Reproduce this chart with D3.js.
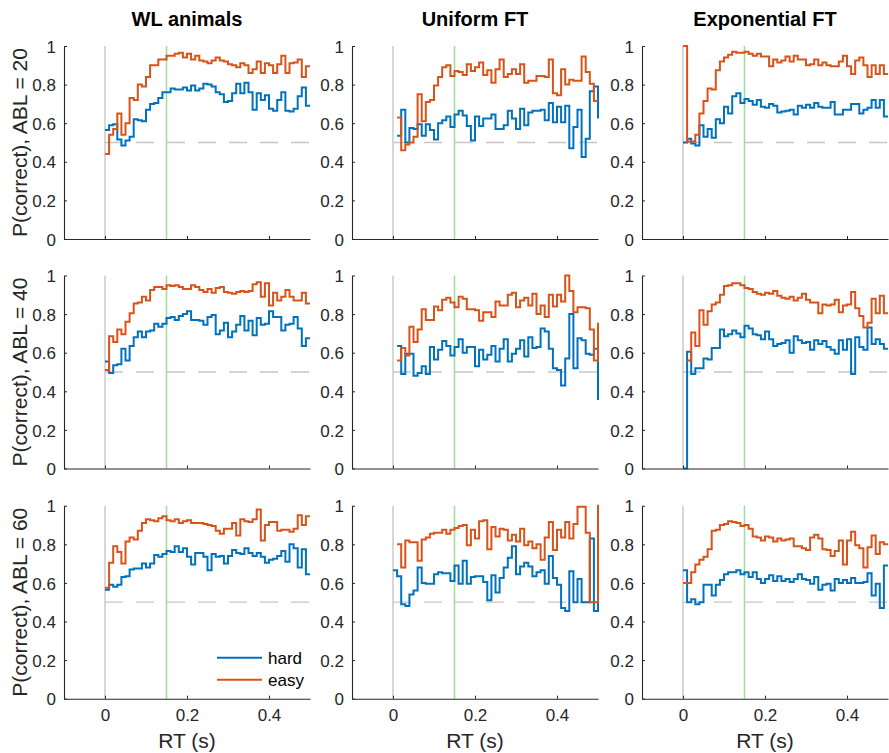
<!DOCTYPE html>
<html>
<head>
<meta charset="utf-8">
<script src="https://cdn.jsdelivr.net/npm/d3@7"></script>
<style>
  html, body { margin: 0; padding: 0; background: #fff; }
  svg { display: block; font-family: "Liberation Sans", Arial, Helvetica, sans-serif; }
</style>
</head>
<body>
<svg id="chart" width="889" height="753"></svg>
<script>
// ---- Data: P(correct) per 10 ms RT bin (bin k covers [k*0.01, (k+1)*0.01) s) ----
const conditions = ["WL animals", "Uniform FT", "Exponential FT"];
const ablLevels = [20, 40, 60];
const seriesNames = ["hard", "easy"];
const xTicks = [0, 0.2, 0.4];
const yTicks = [0, 0.2, 0.4, 0.6, 0.8, 1];
const binWidth = 0.01;
const chance = 0.5;
const markerRT = 0.15;

// ABL = 20
const wl20Hard = [0.565,0.59,0.595,0.515,0.485,0.51,0.53,0.62,0.615,0.61, 0.67,0.70,0.705,0.73,0.76,0.76,0.78,0.775,0.775,0.785, 0.77,0.795,0.77,0.78,0.805,0.80,0.79,0.76,0.75,0.71, 0.715,0.755,0.805,0.755,0.81,0.76,0.67,0.755,0.72,0.745, 0.675,0.665,0.72,0.76,0.665,0.66,0.675,0.74,0.785,0.69];
const wl20Easy = [0.44,0.54,0.57,0.65,0.54,0.60,0.73,0.72,0.80,0.79, 0.84,0.90,0.90,0.93,0.93,0.95,0.95,0.96,0.965,0.94, 0.96,0.93,0.95,0.925,0.92,0.91,0.925,0.94,0.925,0.92, 0.905,0.90,0.89,0.91,0.90,0.86,0.88,0.92,0.86,0.91, 0.90,0.86,0.905,0.95,0.86,0.91,0.915,0.93,0.84,0.895];
const uni20Hard = [null,0.535,0.67,0.50,0.575,0.57,0.595,0.535,0.595,0.565, 0.515,0.60,0.615,0.635,0.58,0.645,0.665,0.64,0.585,0.51, 0.635,0.585,0.625,0.625,0.645,0.57,0.57,0.59,0.665,0.625, 0.57,0.675,0.59,0.655,0.665,0.665,0.67,0.615,0.705,0.605, 0.685,0.605,0.69,0.47,0.58,0.67,0.425,0.52,0.765,0.79, 0.63];
const uni20Easy = [null,0.63,0.46,0.49,0.50,0.53,0.75,0.61,0.71,0.72, 0.795,0.84,0.89,0.90,0.845,0.87,0.865,0.85,0.905,0.87, 0.89,0.915,0.85,0.875,0.81,0.88,0.93,0.84,0.855,0.88, 0.855,0.905,0.81,0.82,0.82,0.845,0.845,0.84,0.93,0.755, 0.745,0.88,0.80,0.825,0.82,0.82,0.945,0.865,0.805,0.715];
const exp20Hard = [0.50,0.52,0.495,0.485,0.59,0.53,0.57,0.525,0.62,0.60, 0.685,0.65,0.74,0.755,0.705,0.725,0.715,0.695,0.72,0.685, 0.68,0.70,0.69,0.655,0.66,0.665,0.67,0.645,0.69,0.68, 0.695,0.68,0.705,0.685,0.68,0.68,0.71,0.645,0.645,0.67, 0.67,0.70,0.70,0.65,0.67,0.68,0.72,0.68,0.72,0.635];
const exp20Easy = [1.0,0.505,0.505,0.54,0.65,0.715,0.78,0.775,0.875,0.92, 0.94,0.955,0.97,0.965,0.965,0.97,0.96,0.95,0.96,0.945, 0.945,0.895,0.93,0.915,0.925,0.945,0.92,0.95,0.93,0.93, 0.90,0.905,0.93,0.90,0.915,0.90,0.895,0.895,0.92,0.95, 0.895,0.855,0.925,0.94,0.90,0.84,0.90,0.855,0.90,0.855];

// ABL = 40
const wl40Hard = [0.555,0.495,0.535,0.54,0.62,0.56,0.635,0.68,0.71,0.68, 0.71,0.715,0.75,0.735,0.75,0.78,0.785,0.77,0.79,0.80, 0.815,0.77,0.77,0.765,0.745,0.785,0.795,0.695,0.715,0.755, 0.68,0.71,0.745,0.79,0.715,0.765,0.69,0.78,0.745,0.75, 0.815,0.785,0.785,0.715,0.745,0.75,0.785,0.725,0.635,0.675];
const wl40Easy = [0.51,0.685,0.655,0.72,0.695,0.76,0.805,0.855,0.86,0.89, 0.87,0.925,0.94,0.94,0.93,0.95,0.945,0.95,0.94,0.93, 0.93,0.95,0.94,0.925,0.915,0.93,0.91,0.935,0.94,0.915, 0.91,0.905,0.915,0.92,0.915,0.92,0.955,0.965,0.89,0.96, 0.845,0.91,0.87,0.89,0.925,0.89,0.87,0.87,0.91,0.855];
const uni40Hard = [null,0.635,0.49,0.595,0.595,0.48,0.495,0.53,0.49,0.63, 0.565,0.615,0.66,0.635,0.585,0.63,0.67,0.60,0.63,0.63, 0.53,0.615,0.565,0.59,0.635,0.555,0.62,0.67,0.555,0.595, 0.62,0.665,0.58,0.68,0.625,0.63,0.725,0.71,0.62,0.52, 0.51,0.43,0.57,0.80,0.52,0.675,0.665,0.595,0.59,0.62, 0.36];
const uni40Easy = [null,0.56,0.625,0.585,0.735,0.655,0.72,0.825,0.77,0.77, 0.84,0.82,0.875,0.885,0.86,0.835,0.89,0.88,0.825,0.825, 0.82,0.765,0.81,0.81,0.785,0.865,0.845,0.845,0.90,0.91, 0.835,0.87,0.885,0.845,0.905,0.80,0.845,0.785,0.90,0.84, 0.90,0.865,1.0,0.92,0.81,0.835,0.835,0.83,0.72,0.56, 0.75];
const exp40Hard = [0.0,0.605,0.49,0.52,0.52,0.57,0.565,0.625,0.625,0.72, 0.685,0.695,0.715,0.70,0.68,0.74,0.725,0.695,0.69,0.67, 0.71,0.67,0.635,0.645,0.65,0.665,0.60,0.685,0.665,0.65, 0.655,0.615,0.665,0.645,0.66,0.63,0.615,0.595,0.665,0.615, 0.67,0.49,0.68,0.63,0.615,0.73,0.645,0.67,0.645,0.62];
const exp40Easy = [null,0.56,0.705,0.635,0.82,0.745,0.815,0.85,0.86,0.90, 0.945,0.95,0.96,0.96,0.95,0.935,0.93,0.915,0.905,0.90, 0.91,0.905,0.92,0.895,0.885,0.88,0.89,0.87,0.885,0.905, 0.875,0.86,0.86,0.805,0.85,0.845,0.85,0.875,0.81,0.845, 0.85,0.915,0.83,0.79,0.73,0.755,0.88,0.805,0.895,0.805];

// ABL = 60
const wl60Hard = [0.565,0.59,0.58,0.59,0.63,0.635,0.67,0.675,0.675,0.70, 0.68,0.70,0.745,0.735,0.75,0.765,0.76,0.79,0.76,0.78, 0.735,0.695,0.755,0.755,0.735,0.665,0.75,0.735,0.74,0.70, 0.74,0.77,0.755,0.75,0.78,0.755,0.74,0.755,0.735,0.705, 0.72,0.725,0.74,0.765,0.71,0.80,0.78,0.68,0.775,0.645];
const wl60Easy = [0.575,0.705,0.79,0.76,0.70,0.815,0.835,0.825,0.87,0.91, 0.93,0.925,0.92,0.935,0.945,0.925,0.92,0.93,0.91,0.92, 0.925,0.91,0.91,0.91,0.905,0.90,0.895,0.87,0.855,0.88, 0.88,0.91,0.845,0.93,0.92,0.915,0.93,0.98,0.82,0.90, 0.915,0.915,0.87,0.875,0.875,0.865,0.88,0.95,0.90,0.945];
const uni60Hard = [0.665,0.635,0.49,0.48,0.54,0.56,0.68,0.60,0.595,0.595, 0.645,0.655,0.65,0.65,0.61,0.69,0.595,0.715,0.595,0.63, 0.635,0.635,0.605,0.51,0.64,0.55,0.625,0.68,0.73,0.79, 0.645,0.685,0.705,0.685,0.635,0.655,0.665,0.595,0.74,0.625, 0.59,0.47,0.455,0.66,0.50,0.62,0.50,0.50,0.83,0.455, 0.66];
const uni60Easy = [null,0.80,0.68,0.82,0.81,0.81,0.715,0.825,0.835,0.855, 0.86,0.86,0.875,0.855,0.875,0.885,0.895,0.90,0.795,0.875, 0.83,0.92,0.925,0.775,0.89,0.84,0.88,0.875,0.82,0.85, 0.815,0.88,0.795,0.815,0.78,0.80,0.72,0.835,0.915,0.77, 0.875,0.835,0.915,0.83,0.905,0.995,0.995,0.86,0.50,0.50, 1.0];
const exp60Hard = [0.665,0.50,0.515,0.49,0.50,0.59,0.59,0.535,0.59,0.615, 0.645,0.655,0.655,0.665,0.645,0.655,0.63,0.655,0.62,0.60, 0.62,0.64,0.61,0.635,0.61,0.62,0.605,0.62,0.645,0.62, 0.615,0.595,0.63,0.565,0.59,0.595,0.56,0.62,0.60,0.615, 0.60,0.625,0.60,0.60,0.605,0.65,0.535,0.595,0.47,0.69];
const exp60Easy = [0.60,0.60,0.655,0.695,0.72,0.735,0.775,0.87,0.875,0.90, 0.905,0.92,0.915,0.91,0.895,0.90,0.88,0.84,0.835,0.82, 0.84,0.835,0.815,0.83,0.82,0.825,0.83,0.79,0.79,0.78, 0.77,0.835,0.85,0.83,0.775,0.77,0.74,0.765,0.82,0.695, 0.82,0.865,0.795,0.78,0.68,0.785,0.845,0.75,0.81,0.80];

// rows = ABL level, columns = condition; each cell = [hard, easy]
const panelData = [
  [[wl20Hard, wl20Easy], [uni20Hard, uni20Easy], [exp20Hard, exp20Easy]],
  [[wl40Hard, wl40Easy], [uni40Hard, uni40Easy], [exp40Hard, exp40Easy]],
  [[wl60Hard, wl60Easy], [uni60Hard, uni60Easy], [exp60Hard, exp60Easy]]
];

// ---- Layout ----
const colLeft = [64, 352, 642];
const rowTop = [46, 275.5, 505.7];
const panelW = 246, panelH = 193;
const colors = { hard: "#0072BD", easy: "#D95319" };
const axisColor = "#262626";

const svg = d3.select("#chart");
const defs = svg.append("defs");

const x = d3.scaleLinear().domain([-0.1, 0.5]).range([0, panelW]);
const y = d3.scaleLinear().domain([0, 1]).range([panelH, 0]);

const line = d3.line().x(d => x(d[0])).y(d => y(d[1]));

// Turn bin values into runs of stair vertices (gaps where a bin is empty)
function stairRuns(values) {
  const runs = [];
  let cur = null;
  values.forEach((v, k) => {
    if (v == null) { cur = null; return; }
    if (!cur) { cur = []; runs.push(cur); }
    cur.push([k * binWidth, v], [(k + 1) * binWidth, v]);
  });
  return runs;
}

panelData.forEach((row, r) => {
  row.forEach((cell, c) => {
    const g = svg.append("g").attr("transform", `translate(${colLeft[c]},${rowTop[r]})`);
    const clipId = `clip-${r}-${c}`;
    defs.append("clipPath").attr("id", clipId)
      .append("rect").attr("x", 0).attr("y", -3).attr("width", panelW + 1).attr("height", panelH + 4);

    // reference lines
    g.append("line")
      .attr("x1", x(0)).attr("x2", x(0)).attr("y1", y(0)).attr("y2", y(1))
      .attr("stroke", "#bdbdbd").attr("stroke-width", 1.2);
    g.append("line")
      .attr("x1", x(0)).attr("x2", x(0.5)).attr("y1", y(chance)).attr("y2", y(chance))
      .attr("stroke", "#c6c6c6").attr("stroke-width", 1.3).attr("stroke-dasharray", "18,13");
    g.append("line")
      .attr("x1", x(markerRT)).attr("x2", x(markerRT)).attr("y1", y(0)).attr("y2", y(1))
      .attr("stroke", "#9ddf9d").attr("stroke-width", 1.6);

    // stair traces: hard first, easy on top
    const traces = g.append("g").attr("clip-path", `url(#${clipId})`);
    cell.forEach((vals, i) => {
      stairRuns(vals).forEach(run => {
        traces.append("path")
          .attr("d", line(run))
          .attr("fill", "none")
          .attr("stroke", colors[seriesNames[i]])
          .attr("stroke-width", 2)
          .attr("stroke-linejoin", "miter");
      });
    });

    // axes
    const yAxis = d3.axisLeft(y).tickValues(yTicks).tickFormat(d => String(d))
      .tickSizeInner(-3).tickSizeOuter(0).tickPadding(8);
    const ya = g.append("g").call(yAxis);
    const xAxis = d3.axisBottom(x).tickValues(xTicks).tickFormat(d => String(d))
      .tickSizeInner(-3).tickSizeOuter(0).tickPadding(10);
    const xa = g.append("g").attr("transform", `translate(0,${panelH})`).call(xAxis);
    if (r < 2) xa.selectAll("text").remove();

    [ya, xa].forEach(a => {
      a.select(".domain").attr("stroke", axisColor).attr("stroke-width", 1.1);
      a.selectAll(".tick line").attr("stroke", axisColor).attr("stroke-width", 1);
      a.selectAll("text").attr("fill", axisColor).attr("font-size", 17)
        .attr("font-family", '"Liberation Sans", Arial, sans-serif');
    });
    ya.selectAll("text").attr("dy", "0.36em");
    xa.selectAll("text").attr("dy", "0.75em");

    if (r === 0) {
      g.append("text")
        .attr("x", x(0.2)).attr("y", -20)
        .attr("text-anchor", "middle")
        .attr("font-weight", "bold").attr("font-size", 20)
        .attr("fill", "#000")
        .text(conditions[c]);
    }
    if (c === 0) {
      g.append("text")
        .attr("transform", `translate(-37,${panelH / 2}) rotate(-90)`)
        .attr("text-anchor", "middle")
        .attr("font-size", 21)
        .attr("fill", axisColor)
        .text(`P(correct), ABL = ${ablLevels[r]}`);
    }
    if (r === 2) {
      g.append("text")
        .attr("x", x(0.2)).attr("y", panelH + 49)
        .attr("text-anchor", "middle")
        .attr("font-size", 21)
        .attr("fill", axisColor)
        .text("RT (s)");
    }

    // legend in the bottom-left panel
    if (r === 2 && c === 0) {
      const lg = g.append("g").attr("transform", "translate(153,152)");
      seriesNames.forEach((name, i) => {
        lg.append("line")
          .attr("x1", 0).attr("x2", 45).attr("y1", i * 22).attr("y2", i * 22)
          .attr("stroke", colors[name]).attr("stroke-width", 2);
        lg.append("text")
          .attr("x", 51).attr("y", i * 22 + 6)
          .attr("font-size", 17).attr("fill", "#000")
          .text(name);
      });
    }
  });
});
</script>
</body>
</html>
